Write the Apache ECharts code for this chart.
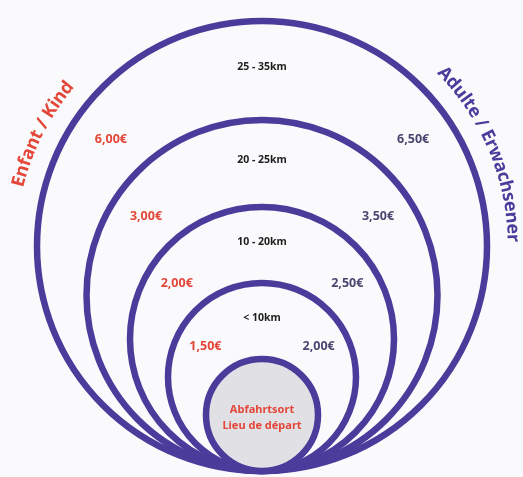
<!DOCTYPE html>
<html><head><meta charset="utf-8">
<script src="https://cdn.jsdelivr.net/npm/echarts/dist/echarts.min.js"></script>
<style>html,body{margin:0;padding:0;background:#fafafc}#c{width:523px;height:477px}</style>
</head><body><div id="c"></div>
<script>
// ---- data ----
const zones = ['25 - 35km', '20 - 25km', '10 - 20km', '< 10km'];
const childPrices = ['6,00€', '3,00€', '2,00€', '1,50€'];
const adultPrices = ['6,50€', '3,50€', '2,50€', '2,00€'];
const ringRadii = [225, 175.5, 132, 94, 56];
const startLabel = ['Abfahrtsort', 'Lieu de départ'];
const titles = ['Enfant / Kind', 'Adulte / Erwachsener'];

// ---- layout ----
const CX = 262, BASE = 471;
const PURPLE = '#4b3b9b', RED = '#e3473a', DARK = '#4a4770';
const FONT = '"Noto Sans", "DejaVu Sans", sans-serif';
const titleFont = 'bold 18px ' + FONT;
const titleCenterDeg = [-63, 67.2];
const titleR = 251;
const priceAngle = 49 * Math.PI / 180;

const ctx = document.createElement('canvas').getContext('2d');
function w(t, f) { ctx.font = f; return ctx.measureText(t).width; }

const chart = echarts.init(document.getElementById('c'), null, {renderer: 'canvas'});

function txt(x, y, text, fill, font, rot) {
  return {
    type: 'text', x: x, y: y, rotation: rot || 0,
    style: {text: text, fill: fill, font: font, align: 'center', verticalAlign: 'middle',
            textAlign: 'center', textVerticalAlign: 'middle'}
  };
}

const last = ringRadii.length - 1;

chart.setOption({
  animation: false,
  backgroundColor: '#fafafc',
  grid: {left: 0, right: 0, top: 0, bottom: 0},
  xAxis: {type: 'value', min: 0, max: 523, show: false},
  yAxis: {type: 'value', min: 0, max: 477, inverse: true, show: false},
  series: [
    {
      type: 'custom', name: 'rings',
      data: ringRadii.map((r, i) => [i, r]),
      renderItem: function (params, api) {
        const i = api.value(0), r = api.value(1);
        const c = api.coord([CX, BASE - r]);
        const s = api.size([r, r]);
        return {
          type: 'circle',
          shape: {cx: c[0], cy: c[1], r: s[0]},
          style: {fill: i === last ? '#e1e0e5' : 'none', stroke: PURPLE, lineWidth: 6.5}
        };
      }
    },
    {
      type: 'custom', name: 'bands',
      data: zones.map((z, i) => [i]),
      renderItem: function (params, api) {
        const i = api.value(0);
        const rOut = ringRadii[i], rIn = ringRadii[i + 1];
        const mid = (rOut + rIn) / 2;
        const cy = BASE - mid;
        const topOut = BASE - 2 * rOut, topIn = BASE - 2 * rIn;
        const zy = topOut + (topIn - topOut) * 0.46;
        const dx = mid * Math.sin(priceAngle), py = cy - mid * Math.cos(priceAngle);
        const z = api.coord([CX, zy]);
        const pl = api.coord([CX - dx, py]);
        const pr = api.coord([CX + dx, py]);
        return {
          type: 'group',
          children: [
            txt(z[0], z[1], zones[i], '#1e1e1e', 'bold 10.5px ' + FONT),
            txt(pl[0], pl[1], childPrices[i], RED, 'bold 12.5px ' + FONT),
            txt(pr[0], pr[1], adultPrices[i], DARK, 'bold 12.5px ' + FONT)
          ]
        };
      }
    },
    {
      type: 'custom', name: 'start',
      data: [[0]],
      renderItem: function (params, api) {
        const r = ringRadii[last];
        const c = api.coord([CX, BASE - r + 3]);
        return {
          type: 'group',
          children: [
            txt(c[0], c[1] - 8, startLabel[0], RED, 'bold 11px ' + FONT),
            txt(c[0], c[1] + 8, startLabel[1], RED, 'bold 11px ' + FONT)
          ]
        };
      }
    },
    {
      type: 'custom', name: 'titles',
      data: titles.map((t, i) => [i]),
      renderItem: function (params, api) {
        const i = api.value(0);
        const text = titles[i];
        const cy = BASE - ringRadii[0];
        const chars = Array.from(text);
        const widths = chars.map(ch => w(ch, titleFont));
        const total = widths.reduce((a, b) => a + b, 0);
        let th = titleCenterDeg[i] * Math.PI / 180 - (total / 2) / titleR;
        let cum = 0;
        const children = chars.map((ch, k) => {
          const a = th + (cum + widths[k] / 2) / titleR;
          cum += widths[k];
          const p = api.coord([CX + titleR * Math.sin(a), cy - titleR * Math.cos(a)]);
          return txt(p[0], p[1], ch, i === 0 ? RED : PURPLE, titleFont, -a);
        });
        return {type: 'group', children: children};
      }
    }
  ]
});
</script>
</body></html>
